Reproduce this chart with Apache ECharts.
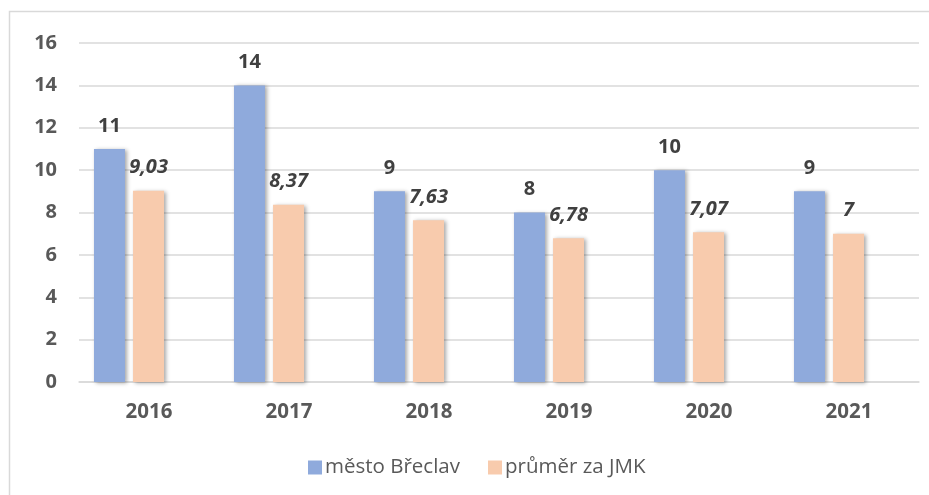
<!DOCTYPE html>
<html><head><meta charset="utf-8">
<script src="https://cdn.jsdelivr.net/npm/echarts@6/dist/echarts.min.js"></script>
<style>html,body{margin:0;padding:0;background:#fff}#c{width:929px;height:495px}</style>
</head><body><div id="c"></div>
<script>
const categories = ['2016','2017','2018','2019','2020','2021'];
const breclav = [11, 14, 9, 8, 10, 9];
const jmk = [9.03, 8.37, 7.63, 6.78, 7.07, 7];
const seriesNames = ['město Břeclav', 'průměr za JMK'];
const yTicks = {min: 0, max: 16, interval: 2};

const FONT = '"Open Sans"';
const chart = echarts.init(document.getElementById('c'));
const fmtComma = v => String(v).replace('.', ',');
const shadow = {shadowBlur: 4, shadowColor: 'rgba(0,0,0,0.35)', shadowOffsetX: 2, shadowOffsetY: 1};
chart.setOption({
  animation: false,
  graphic: [{type: 'rect', shape: {x: 9.5, y: 11.5, width: 1000, height: 1000},
    style: {fill: 'none', stroke: '#d9d9d9', lineWidth: 1.5}, silent: true}],
  grid: [
    {left: 79, right: 10, top: 43, bottom: 113},
    {left: 59, right: 30, top: 43, bottom: 113}
  ],
  legend: {
    left: 303, top: 452, itemWidth: 14, itemHeight: 14, itemGap: 28, icon: 'rect',
    textStyle: {fontFamily: FONT, fontSize: 20.5, color: '#595959', padding: [0,0,0,-2]},
    data: seriesNames
  },
  xAxis: [
    {type: 'category', gridIndex: 0, data: categories,
     axisLine: {show: true, lineStyle: {color: '#d9d9d9', width: 1.5}}, axisTick: {show: false},
     axisLabel: {fontFamily: FONT, fontWeight: 'bold', fontSize: 20.5, color: '#595959', margin: 20}},
    {type: 'category', gridIndex: 1, data: categories, show: false}
  ],
  yAxis: [
    {type: 'value', gridIndex: 0, min: yTicks.min, max: yTicks.max, interval: yTicks.interval,
     axisLine: {show: false}, axisTick: {show: false},
     splitLine: {lineStyle: {color: '#d9d9d9', width: 1.5}},
     axisLabel: {fontFamily: FONT, fontWeight: 'bold', fontSize: 20, color: '#595959', margin: 22}},
    {type: 'value', gridIndex: 1, min: yTicks.min, max: yTicks.max, interval: yTicks.interval, show: false}
  ],
  series: [
    {name: seriesNames[0], type: 'bar', xAxisIndex: 1, yAxisIndex: 1, data: breclav,
     barWidth: 31, barGap: '26%', itemStyle: Object.assign({color: '#8faadc'}, shadow),
     label: {show: true, position: 'top', distance: 13, fontFamily: FONT, fontWeight: 'bold',
       fontSize: 20, color: '#404040'}},
    {name: seriesNames[1], type: 'bar', xAxisIndex: 1, yAxisIndex: 1, data: jmk,
     barWidth: 31, barGap: '26%', itemStyle: Object.assign({color: '#f8cbad'}, shadow),
     label: {show: true, position: 'top', distance: 13, fontFamily: FONT, fontWeight: 'bold',
       fontStyle: 'italic', fontSize: 20, color: '#404040', formatter: p => fmtComma(p.value)}}
  ]
});
</script></body></html>
